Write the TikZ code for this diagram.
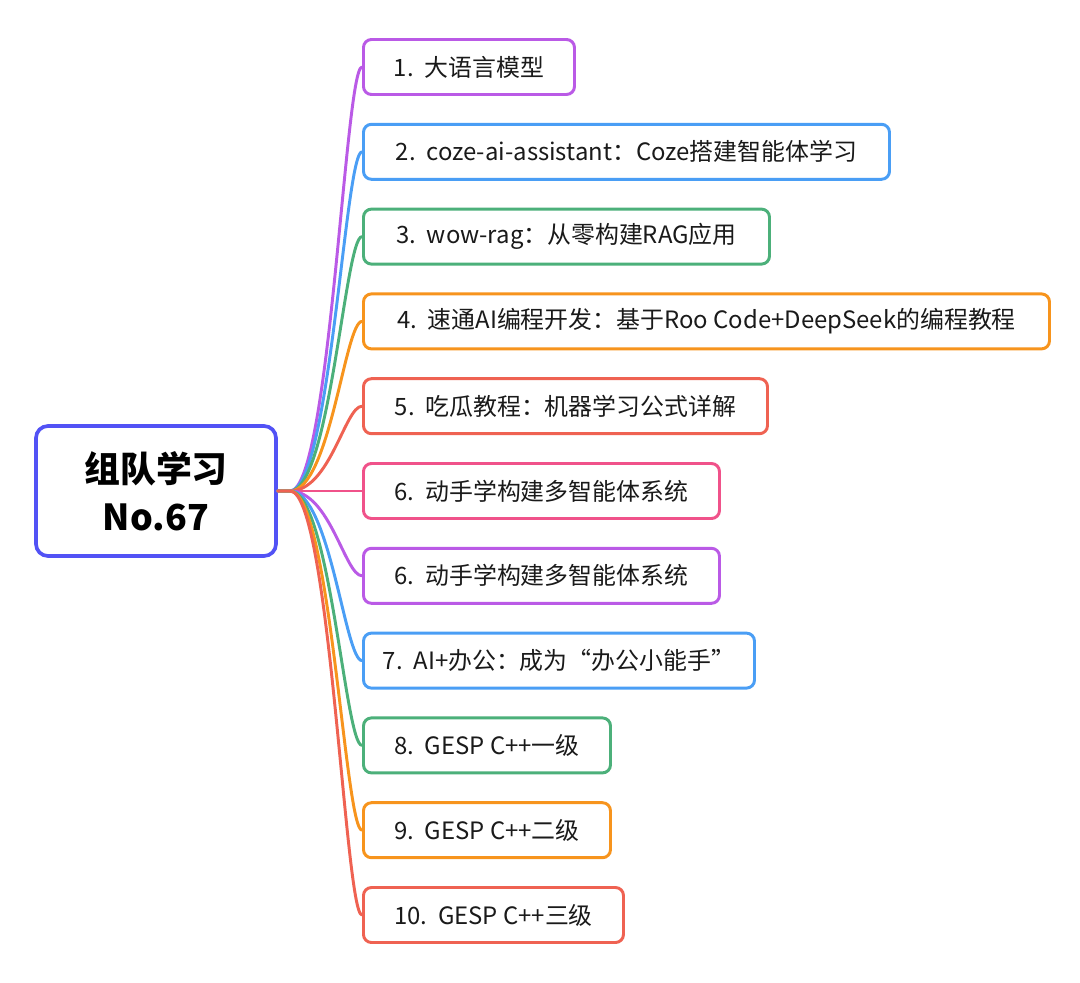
\documentclass[tikz,border=0pt]{standalone}
\usepackage{fontspec}
\setmainfont{Noto Sans CJK SC}
\usepackage{tikz}
\usetikzlibrary{positioning}

\definecolor{mroot}{RGB}{82,82,245}
\definecolor{mpurple}{RGB}{186,90,230}
\definecolor{mblue}{RGB}{74,158,245}
\definecolor{mgreen}{RGB}{76,176,122}
\definecolor{morange}{RGB}{247,148,29}
\definecolor{mred}{RGB}{239,98,82}
\definecolor{mpink}{RGB}{240,82,138}
\definecolor{mtext}{RGB}{26,26,26}

\tikzset{
  rootbox/.style={draw=mroot, line width=2.6pt, rounded corners=0.3cm, fill=white,
    minimum width=6cm, minimum height=3.25cm, align=center, text=black,
    font=\fontsize{25.5}{34}\selectfont\bfseries},
  topic/.style={draw=#1, line width=2.1pt, rounded corners=0.2cm, fill=white,
    anchor=west, minimum height=1.375cm, inner xsep=0pt, text=mtext,
    font=\fontsize{17}{20}\selectfont},
  branch/.style={draw=#1, line width=2.1pt, line cap=round}
}
\newcommand{\num}[1]{#1\hspace{0.45em}}

\begin{document}
\begin{tikzpicture}
                \useasboundingbox (0,0) rectangle (27,24.55);
                \node[rootbox] (root) at (3.9,12.275) {组队学习\\No.67};
                \coordinate (hub) at (7.25,12.275);
                % topics
                \node[topic=mpurple, minimum width=5.275cm] (t1) at (9.05,22.875) {\num{1.}大语言模型};
                \node[topic=mblue, minimum width=13.15cm] (t2) at (9.05,20.755) {\num{2.}coze-ai-assistant：Coze搭建智能体学习};
                \node[topic=mgreen, minimum width=10.15cm] (t3) at (9.05,18.635) {\num{3.}wow-rag：从零构建RAG应用};
                \node[topic=morange, minimum width=17.15cm] (t4) at (9.05,16.515) {\num{4.}速通AI编程开发：基于Roo Code+DeepSeek的编程教程};
                \node[topic=mred, minimum width=10.1cm] (t5) at (9.05,14.395) {\num{5.}吃瓜教程：机器学习公式详解};
                \node[topic=mpink, minimum width=8.9cm] (t6) at (9.05,12.275) {\num{6.}动手学构建多智能体系统};
                \node[topic=mpurple, minimum width=8.9cm] (t6b) at (9.05,10.155) {\num{6.}动手学构建多智能体系统};
                \node[topic=mblue, minimum width=9.775cm] (t7) at (9.05,8.035) {\num{7.}AI+办公：成为“办公小能手”};
                \node[topic=mgreen, minimum width=6.175cm] (t8) at (9.05,5.915) {\num{8.}GESP C++一级};
                \node[topic=morange, minimum width=6.175cm] (t9) at (9.05,3.795) {\num{9.}GESP C++二级};
                \node[topic=mred, minimum width=6.5cm] (t10) at (9.05,1.675) {\num{10.}GESP C++三级};
                % branches
                \draw[branch=mpurple] (root.east) -- (hub) .. controls +(1,0) and +(-0.425,0) .. (t1.west);
                \draw[branch=mblue] (root.east) -- (hub) .. controls +(1,0) and +(-0.425,0) .. (t2.west);
                \draw[branch=mgreen] (root.east) -- (hub) .. controls +(1,0) and +(-0.425,0) .. (t3.west);
                \draw[branch=morange] (root.east) -- (hub) .. controls +(1,0) and +(-0.425,0) .. (t4.west);
                \draw[branch=mred] (root.east) -- (hub) .. controls +(1,0) and +(-0.425,0) .. (t5.west);
                \draw[branch=mpink] (root.east) -- (hub) -- (t6.west);
                \draw[branch=mpurple] (root.east) -- (hub) .. controls +(1,0) and +(-0.425,0) .. (t6b.west);
                \draw[branch=mblue] (root.east) -- (hub) .. controls +(1,0) and +(-0.425,0) .. (t7.west);
                \draw[branch=mgreen] (root.east) -- (hub) .. controls +(1,0) and +(-0.425,0) .. (t8.west);
                \draw[branch=morange] (root.east) -- (hub) .. controls +(1,0) and +(-0.425,0) .. (t9.west);
                \draw[branch=mred] (root.east) -- (hub) .. controls +(1,0) and +(-0.425,0) .. (t10.west);
\end{tikzpicture}
\end{document}
